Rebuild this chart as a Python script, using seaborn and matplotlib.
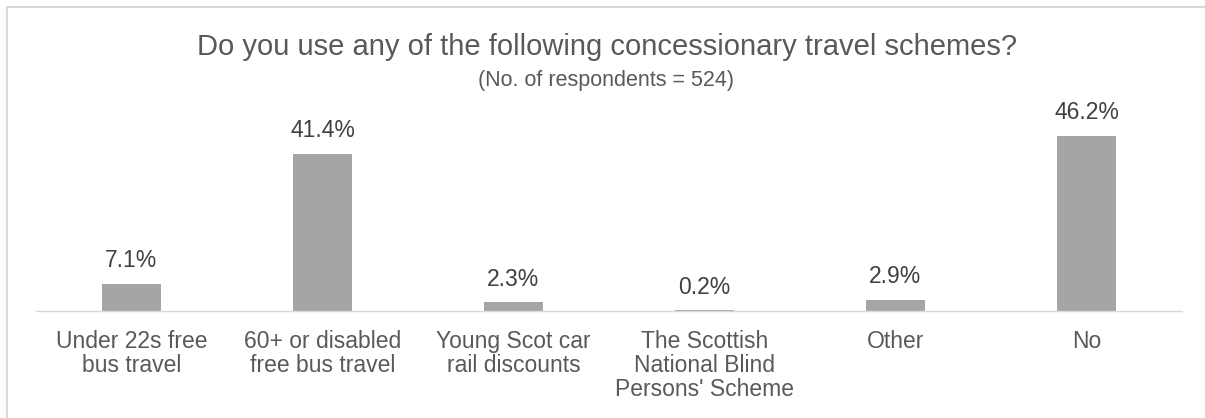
import matplotlib
matplotlib.use("Agg")
import matplotlib.pyplot as plt
from matplotlib.patches import Rectangle
import seaborn as sns
import pandas as pd

categories = [
    "Under 22s free\nbus travel",
    "60+ or disabled\nfree bus travel",
    "Young Scot car\nrail discounts",
    "The Scottish\nNational Blind\nPersons' Scheme",
    "Other",
    "No",
]
shares = [7.1, 41.4, 2.3, 0.2, 2.9, 46.2]
value_labels = ["7.1%", "41.4%", "2.3%", "0.2%", "2.9%", "46.2%"]

title = "Do you use any of the following concessionary travel schemes?"
subtitle = "(No. of respondents = 524)"

sns.set_theme(style="white")
plt.rcParams["font.family"] = ["Liberation Sans", "DejaVu Sans"]

df = pd.DataFrame({"scheme": categories, "share": shares})

fig = plt.figure(figsize=(12.05, 4.18), dpi=100)
W, H = 1205, 418
ax = fig.add_axes([36 / W, 1 - 311 / H, (1182 - 36) / W, (311 - 100) / H])

sns.barplot(data=df, x="scheme", y="share", color="#a5a5a5", width=0.31,
            saturation=1, ax=ax)
for p in ax.patches:
    p.set_edgecolor("none")

ax.set_ylim(0, (311 - 100) / 3.79)
ax.set_xlim(-0.5, len(categories) - 0.5)
ax.set_xlabel("")
ax.set_ylabel("")
ax.set_yticks([])
for side in ["left", "right", "top"]:
    ax.spines[side].set_visible(False)
ax.spines["bottom"].set_color("#d9d9d9")
ax.spines["bottom"].set_linewidth(1.0)
ax.tick_params(axis="x", length=0, pad=14, labelsize=16.5, labelcolor="#595959")
for lbl in ax.get_xticklabels():
    lbl.set_linespacing(1.05)

for i, (v, t) in enumerate(zip(shares, value_labels)):
    ax.annotate(t, (i, v), xytext=(0, 12), textcoords="offset points",
                ha="center", va="baseline", fontsize=16.5, color="#404040")

fig.text(607 / W, 1 - 55 / H, title, ha="center", va="baseline",
         fontsize=21, color="#595959")
fig.text(606 / W, 1 - 86 / H, subtitle, ha="center", va="baseline",
         fontsize=15.5, color="#595959")

fig.patches.append(Rectangle((6.5 / W, -0.1), 1.2, 1.1 - 6.5 / H,
                             transform=fig.transFigure, fill=False,
                             edgecolor="#d9d9d9", linewidth=1.5))

fig.savefig("out.png", dpi=100, facecolor="white")
